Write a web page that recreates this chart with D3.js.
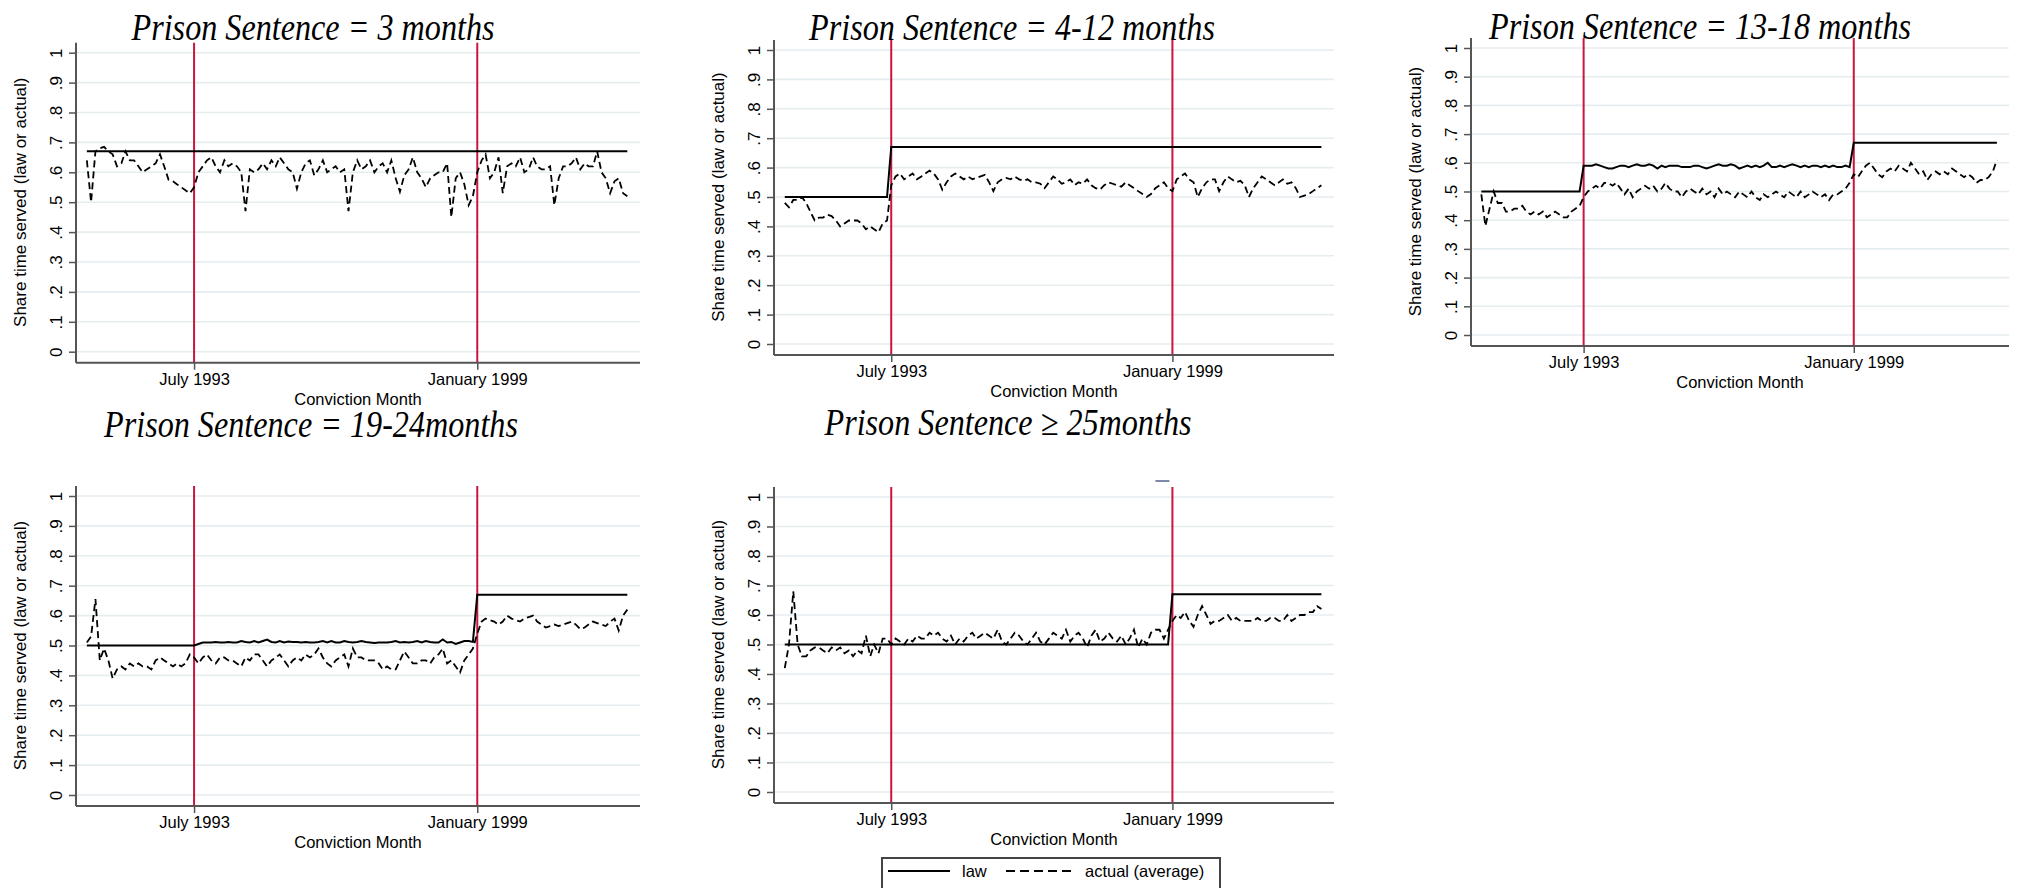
<!DOCTYPE html>
<html>
<head>
<meta charset="utf-8">
<script src="https://cdn.jsdelivr.net/npm/d3@7"></script>
<style>
  body { margin: 0; background: #fff; }
  svg text { font-family: "Liberation Sans", Arial, Helvetica, sans-serif; fill: #000; }
  svg text.title { font-family: "Liberation Serif", "Times New Roman", serif; font-style: italic; }
</style>
</head>
<body>
<svg id="chart" width="2020" height="888"></svg>
<script>
// months June 1991 .. December 2001 (127 observations)
const firstMonth = new Date(1991, 5, 1);
const nMonths = 127;
const months = d3.timeMonth.range(firstMonth, d3.timeMonth.offset(firstMonth, nMonths));
const reformMonths = [new Date(1993, 6, 1), new Date(1999, 0, 1)];

const yTicks = [0, 0.1, 0.2, 0.3, 0.4, 0.5, 0.6, 0.7, 0.8, 0.9, 1];
const yTickLabels = ['0', '.1', '.2', '.3', '.4', '.5', '.6', '.7', '.8', '.9', '1'];

const titles = [
  'Prison Sentence = 3 months',
  'Prison Sentence = 4-12 months',
  'Prison Sentence = 13-18 months',
  'Prison Sentence = 19-24months',
  'Prison Sentence \u2265 25months'
];

// actual (average) share of time served
const actual3m = [
  0.64, 0.50, 0.67, 0.68, 0.685, 0.67, 0.66, 0.62, 0.63, 0.67,
  0.64, 0.64, 0.62, 0.60, 0.61, 0.62, 0.63, 0.66, 0.62, 0.575,
  0.57, 0.56, 0.55, 0.54, 0.53, 0.55, 0.60, 0.62, 0.64, 0.65,
  0.62, 0.60, 0.64, 0.62, 0.63, 0.62, 0.60, 0.47, 0.61, 0.60,
  0.61, 0.63, 0.61, 0.64, 0.62, 0.65, 0.63, 0.61, 0.60, 0.545,
  0.60, 0.63, 0.64, 0.59, 0.61, 0.64, 0.60, 0.61, 0.62, 0.60,
  0.61, 0.47, 0.60, 0.64, 0.61, 0.62, 0.64, 0.60, 0.62, 0.63,
  0.60, 0.64, 0.58, 0.535, 0.59, 0.61, 0.65, 0.60, 0.58, 0.55,
  0.58, 0.59, 0.60, 0.60, 0.63, 0.45, 0.58, 0.60, 0.56, 0.49,
  0.52, 0.60, 0.64, 0.66, 0.58, 0.60, 0.65, 0.53, 0.62, 0.63,
  0.62, 0.65, 0.60, 0.61, 0.65, 0.62, 0.61, 0.61, 0.62, 0.49,
  0.58, 0.62, 0.62, 0.63, 0.65, 0.61, 0.63, 0.62, 0.62, 0.67,
  0.60, 0.58, 0.53, 0.57, 0.58, 0.53, 0.52
];
const actual4to12 = [
  0.48, 0.465, 0.49, 0.49, 0.50, 0.48, 0.45, 0.42, 0.43, 0.43,
  0.44, 0.435, 0.42, 0.40, 0.41, 0.42, 0.42, 0.42, 0.41, 0.39,
  0.40, 0.39, 0.38, 0.41, 0.42, 0.54, 0.57, 0.58, 0.56, 0.57,
  0.58, 0.56, 0.57, 0.58, 0.59, 0.58, 0.56, 0.525, 0.55, 0.57,
  0.58, 0.57, 0.56, 0.57, 0.56, 0.565, 0.57, 0.575, 0.55, 0.52,
  0.55, 0.56, 0.565, 0.56, 0.57, 0.56, 0.555, 0.56, 0.55, 0.55,
  0.545, 0.53, 0.55, 0.57, 0.56, 0.545, 0.55, 0.56, 0.54, 0.55,
  0.545, 0.56, 0.54, 0.53, 0.525, 0.54, 0.55, 0.545, 0.54, 0.535,
  0.55, 0.54, 0.53, 0.52, 0.51, 0.50, 0.51, 0.53, 0.54, 0.55,
  0.53, 0.52, 0.56, 0.57, 0.58, 0.56, 0.55, 0.50, 0.53, 0.55,
  0.56, 0.56, 0.52, 0.55, 0.57, 0.56, 0.55, 0.555, 0.54, 0.50,
  0.53, 0.55, 0.57, 0.56, 0.55, 0.54, 0.55, 0.56, 0.545, 0.55,
  0.53, 0.50, 0.505, 0.51, 0.52, 0.53, 0.54
];
const actual13to18 = [
  0.49, 0.38, 0.44, 0.50, 0.46, 0.46, 0.43, 0.43, 0.44, 0.44,
  0.45, 0.43, 0.42, 0.43, 0.42, 0.43, 0.41, 0.42, 0.43, 0.42,
  0.41, 0.41, 0.43, 0.44, 0.45, 0.48, 0.50, 0.51, 0.52, 0.51,
  0.53, 0.53, 0.52, 0.53, 0.51, 0.49, 0.51, 0.48, 0.50, 0.51,
  0.52, 0.51, 0.52, 0.50, 0.51, 0.53, 0.51, 0.50, 0.50, 0.48,
  0.50, 0.51, 0.50, 0.49, 0.51, 0.49, 0.50, 0.48, 0.51, 0.49,
  0.50, 0.49, 0.48, 0.50, 0.49, 0.48, 0.50, 0.48, 0.47, 0.49,
  0.48, 0.49, 0.50, 0.49, 0.48, 0.50, 0.49, 0.48, 0.50, 0.48,
  0.49, 0.50, 0.49, 0.48, 0.49, 0.47, 0.49, 0.49, 0.50, 0.51,
  0.53, 0.56, 0.55, 0.57, 0.59, 0.60, 0.58, 0.56, 0.55, 0.57,
  0.58, 0.57, 0.59, 0.58, 0.57, 0.60, 0.58, 0.56, 0.57, 0.54,
  0.56, 0.57, 0.56, 0.57, 0.56, 0.58, 0.57, 0.56, 0.55, 0.56,
  0.55, 0.53, 0.54, 0.54, 0.55, 0.57, 0.61
];
const actual19to24 = [
  0.51, 0.53, 0.655, 0.45, 0.49, 0.45, 0.39, 0.42, 0.43, 0.42,
  0.44, 0.43, 0.44, 0.43, 0.43, 0.42, 0.45, 0.46, 0.45, 0.44,
  0.43, 0.44, 0.43, 0.44, 0.47, 0.46, 0.44, 0.46, 0.47, 0.45,
  0.44, 0.46, 0.46, 0.45, 0.45, 0.44, 0.43, 0.46, 0.45, 0.47,
  0.47, 0.45, 0.43, 0.45, 0.46, 0.47, 0.45, 0.43, 0.45, 0.46,
  0.45, 0.47, 0.46, 0.47, 0.49, 0.46, 0.44, 0.43, 0.45, 0.46,
  0.47, 0.43, 0.49, 0.46, 0.46, 0.45, 0.45, 0.45, 0.44, 0.42,
  0.43, 0.42, 0.42, 0.45, 0.48, 0.46, 0.44, 0.44, 0.45, 0.45,
  0.44, 0.46, 0.47, 0.49, 0.44, 0.45, 0.43, 0.41, 0.45, 0.47,
  0.49, 0.54, 0.58, 0.59, 0.585, 0.58, 0.57, 0.58, 0.60, 0.59,
  0.585, 0.58, 0.59, 0.595, 0.60, 0.58, 0.57, 0.56, 0.565, 0.57,
  0.565, 0.57, 0.575, 0.58, 0.57, 0.555, 0.56, 0.57, 0.58, 0.575,
  0.57, 0.565, 0.58, 0.59, 0.55, 0.60, 0.62
];
const actual25plus = [
  0.42, 0.50, 0.68, 0.50, 0.46, 0.46, 0.48, 0.49, 0.49, 0.48,
  0.47, 0.49, 0.48, 0.49, 0.47, 0.48, 0.46, 0.48, 0.47, 0.53,
  0.46, 0.50, 0.47, 0.52, 0.52, 0.50, 0.52, 0.51, 0.50, 0.52,
  0.51, 0.53, 0.52, 0.52, 0.54, 0.53, 0.54, 0.52, 0.51, 0.53,
  0.50, 0.52, 0.51, 0.53, 0.54, 0.52, 0.53, 0.54, 0.53, 0.52,
  0.55, 0.51, 0.50, 0.52, 0.54, 0.53, 0.51, 0.50, 0.52, 0.54,
  0.51, 0.50, 0.52, 0.54, 0.53, 0.52, 0.55, 0.51, 0.53, 0.54,
  0.52, 0.49, 0.53, 0.55, 0.51, 0.52, 0.54, 0.52, 0.51, 0.53,
  0.50, 0.52, 0.55, 0.49, 0.52, 0.50, 0.54, 0.55, 0.55, 0.52,
  0.55, 0.58, 0.60, 0.59, 0.61, 0.58, 0.56, 0.60, 0.63, 0.60,
  0.57, 0.58, 0.58, 0.59, 0.60, 0.58, 0.59, 0.58, 0.58, 0.58,
  0.58, 0.59, 0.58, 0.58, 0.59, 0.59, 0.58, 0.58, 0.60, 0.58,
  0.59, 0.60, 0.60, 0.61, 0.61, 0.63, 0.62
];

// statutory share (law): constant runs [value, months] and the varying stretches
const law13to18Mid = [
  0.59, 0.59, 0.59, 0.595, 0.59, 0.585, 0.58, 0.58, 0.585, 0.59,
  0.59, 0.585, 0.59, 0.595, 0.59, 0.59, 0.595, 0.59, 0.58, 0.59,
  0.585, 0.59, 0.59, 0.59, 0.585, 0.585, 0.585, 0.59, 0.59, 0.585,
  0.58, 0.585, 0.59, 0.595, 0.59, 0.59, 0.595, 0.59, 0.58, 0.585,
  0.59, 0.585, 0.59, 0.585, 0.59, 0.60, 0.585, 0.585, 0.59, 0.585,
  0.59, 0.595, 0.59, 0.585, 0.59, 0.585, 0.59, 0.59, 0.585, 0.59,
  0.585, 0.59, 0.585, 0.585, 0.59, 0.585
];
const law19to24Mid = [
  0.505, 0.51, 0.51, 0.51, 0.512, 0.51, 0.51, 0.512, 0.51, 0.51,
  0.515, 0.512, 0.51, 0.515, 0.51, 0.515, 0.52, 0.512, 0.51, 0.515,
  0.51, 0.513, 0.512, 0.512, 0.51, 0.512, 0.51, 0.51, 0.512, 0.515,
  0.51, 0.515, 0.51, 0.51, 0.515, 0.512, 0.51, 0.512, 0.515, 0.512,
  0.51, 0.508, 0.51, 0.51, 0.51, 0.512, 0.515, 0.51, 0.512, 0.51,
  0.512, 0.515, 0.51, 0.515, 0.512, 0.51, 0.51, 0.52, 0.51, 0.512,
  0.505, 0.51, 0.515, 0.515, 0.512
];
const law3m = [[0.67, 127]];
const law4to12 = [[0.5, 25], [0.67, 102]];
const law13to18 = [[0.5, 25], law13to18Mid, [0.67, 36]];
const law19to24 = [[0.5, 26], law19to24Mid, [0.67, 36]];
const law25plus = [[0.5, 91], [0.67, 36]];

const actualSeries = [actual3m, actual4to12, actual13to18, actual19to24, actual25plus];
const lawSeries = [law3m, law4to12, law13to18, law19to24, law25plus];

// panel geometry
const panels = [
  {left: 76, right: 640, y1: 52.7, y0: 351.7, tx: 313, ty: 40},
  {left: 774, right: 1334, y1: 50, y0: 344, tx: 1012, ty: 39.5},
  {left: 1471, right: 2009, y1: 48, y0: 335, tx: 1700, ty: 39},
  {left: 76, right: 640, y1: 496, y0: 795, tx: 311, ty: 437},
  {left: 774, right: 1334, y1: 497, y0: 792, tx: 1008, ty: 435}
];

function expand(pieces) {
  let out = [];
  for (let p of pieces) {
    if (typeof p[1] === 'number' && p.length === 2 && p[1] > 1) {
      for (let i = 0; i < p[1]; i++) out.push(p[0]);
    } else {
      out = out.concat(p);
    }
  }
  return out;
}

const svg = d3.select('#chart');
const red = '#c8163e';
const axisColor = '#555';

function drawPanel(i) {
  let p = panels[i];
  let top = p.y1 - 10;
  let bottom = p.y0 + 11;

  let x = d3.scaleTime()
    .domain([new Date(1991, 2, 16), new Date(2002, 2, 1)])
    .range([p.left, p.right]);
  let y = d3.scaleLinear().domain([0, 1]).range([p.y0, p.y1]);

  let g = svg.append('g');

  // grid lines
  g.selectAll('line.grid')
    .data(yTicks)
    .enter()
    .append('line')
      .attr('x1', p.left).attr('x2', p.right)
      .attr('y1', d => y(d)).attr('y2', d => y(d))
      .attr('stroke', '#e5edf0')
      .attr('stroke-width', 1.6);

  // reform months
  g.selectAll('line.reform')
    .data(reformMonths)
    .enter()
    .append('line')
      .attr('x1', d => x(d)).attr('x2', d => x(d))
      .attr('y1', top).attr('y2', bottom)
      .attr('stroke', red)
      .attr('stroke-width', 2);

  let line = d3.line()
    .x((d, j) => x(months[j]))
    .y(d => y(d));

  g.append('path')
    .datum(expand(lawSeries[i]))
    .attr('d', line)
    .attr('fill', 'none')
    .attr('stroke', '#000')
    .attr('stroke-width', 2);

  g.append('path')
    .datum(actualSeries[i])
    .attr('d', line)
    .attr('fill', 'none')
    .attr('stroke', '#000')
    .attr('stroke-width', 1.8)
    .attr('stroke-dasharray', '7,4');

  // y axis
  let yAxis = d3.axisLeft(y)
    .tickValues(yTicks)
    .tickFormat((d, j) => yTickLabels[j])
    .tickSize(7)
    .tickSizeOuter(0);
  let ya = g.append('g')
    .attr('transform', `translate(${p.left}, 0)`)
    .call(yAxis);
  ya.select('.domain').remove();
  ya.selectAll('line').attr('stroke', axisColor).attr('stroke-width', 1.5);
  ya.selectAll('text')
    .attr('transform', 'rotate(-90)')
    .attr('x', 0)
    .attr('y', -14)
    .attr('dy', 0)
    .attr('text-anchor', 'middle')
    .style('font-size', '17px')
    .style('font-family', '"Liberation Sans", Arial, sans-serif')
    .attr('fill', '#000');

  // x axis
  let xAxis = d3.axisBottom(x)
    .tickValues(reformMonths)
    .tickFormat(d3.timeFormat('%B %Y'))
    .tickSize(7)
    .tickSizeOuter(0);
  let xa = g.append('g')
    .attr('transform', `translate(0, ${bottom})`)
    .call(xAxis);
  xa.select('.domain').remove();
  xa.selectAll('line').attr('stroke', axisColor).attr('stroke-width', 1.5);
  xa.selectAll('text')
    .attr('y', 22)
    .attr('dy', 0)
    .style('font-size', '16.5px')
    .style('font-family', '"Liberation Sans", Arial, sans-serif')
    .attr('fill', '#000');

  // axis lines
  g.append('line')
    .attr('x1', p.left).attr('x2', p.left)
    .attr('y1', top).attr('y2', bottom)
    .attr('stroke', axisColor).attr('stroke-width', 2);
  g.append('line')
    .attr('x1', p.left).attr('x2', p.right)
    .attr('y1', bottom).attr('y2', bottom)
    .attr('stroke', axisColor).attr('stroke-width', 2);

  // axis titles
  g.append('text')
    .attr('transform', `translate(${p.left - 50}, ${(p.y0 + p.y1) / 2}) rotate(-90)`)
    .attr('text-anchor', 'middle')
    .style('font-size', '17px')
    .text('Share time served (law or actual)');

  g.append('text')
    .attr('x', (p.left + p.right) / 2)
    .attr('y', bottom + 42)
    .attr('text-anchor', 'middle')
    .style('font-size', '16.5px')
    .text('Conviction Month');

  // panel title
  g.append('text')
    .attr('class', 'title')
    .attr('transform', `translate(${p.tx}, ${p.ty}) scale(0.87, 1)`)
    .attr('text-anchor', 'middle')
    .style('font-size', '37px')
    .text(titles[i]);

  return {x: x, y: y, top: top, bottom: bottom};
}

let drawn = [];
for (let i = 0; i < panels.length; i++) {
  drawn.push(drawPanel(i));
}

// small stray mark above the last panel
let last = drawn[4];
svg.append('line')
  .attr('x1', last.x(reformMonths[1]) - 17)
  .attr('x2', last.x(reformMonths[1]) - 3)
  .attr('y1', last.top - 6).attr('y2', last.top - 6)
  .attr('stroke', '#7d89a6').attr('stroke-width', 2);

// legend
let lg = svg.append('g').attr('transform', 'translate(882, 858)');
lg.append('rect')
  .attr('width', 338).attr('height', 60)
  .attr('fill', '#fff')
  .attr('stroke', '#444').attr('stroke-width', 2);
lg.append('line')
  .attr('x1', 6).attr('x2', 68).attr('y1', 13).attr('y2', 13)
  .attr('stroke', '#000').attr('stroke-width', 2);
lg.append('text')
  .attr('x', 80).attr('y', 19)
  .style('font-size', '16.5px')
  .text('law');
lg.append('line')
  .attr('x1', 124).attr('x2', 193).attr('y1', 13).attr('y2', 13)
  .attr('stroke', '#000').attr('stroke-width', 1.8)
  .attr('stroke-dasharray', '9,5');
lg.append('text')
  .attr('x', 203).attr('y', 19)
  .style('font-size', '16.5px')
  .text('actual (average)');
</script>
</body>
</html>
